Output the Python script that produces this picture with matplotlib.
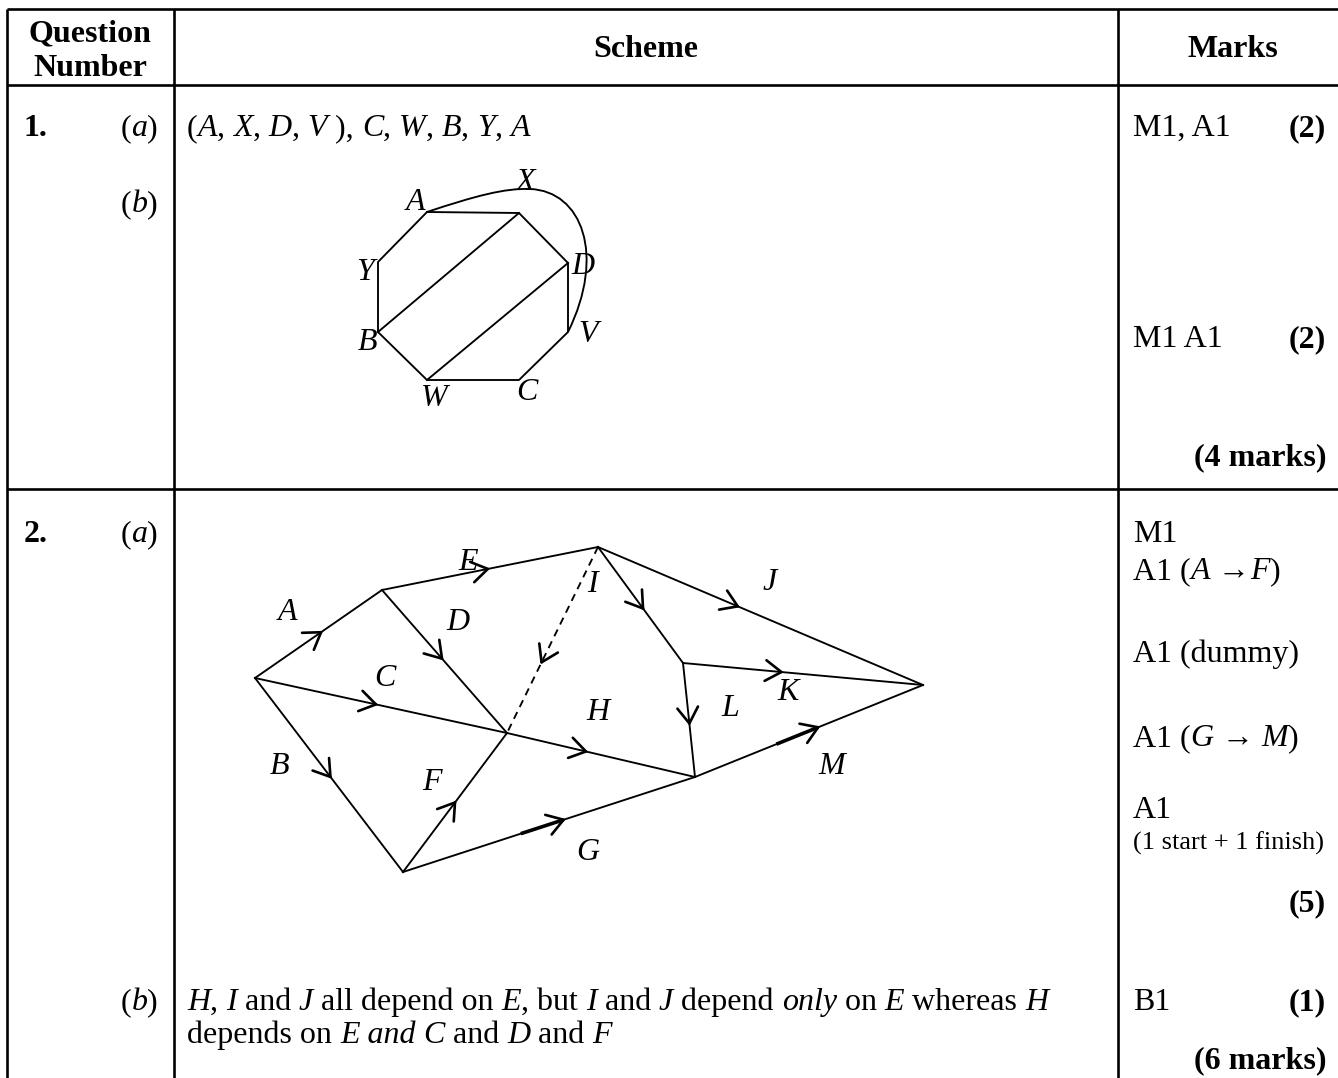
import matplotlib
matplotlib.use('Agg')
import matplotlib.pyplot as plt
from matplotlib.path import Path
from matplotlib.patches import PathPatch
import numpy as np

# ---------------- data ----------------
HEADERS = ["Question\nNumber", "Scheme", "Marks"]

Q1A_SCHEME = [("(", "r"), ("A", "i"), (", ", "r"), ("X", "i"), (", ", "r"), ("D", "i"),
              (", ", "r"), ("V", "i"), (" ), ", "r"), ("C", "i"), (", ", "r"), ("W", "i"),
              (", ", "r"), ("B", "i"), (", ", "r"), ("Y", "i"), (", ", "r"), ("A", "i")]
Q2B_LINE1 = [("H", "i"), (", ", "r"), ("I", "i"), (" and ", "r"), ("J", "i"),
             (" all depend on ", "r"), ("E", "i"), (", but ", "r"), ("I", "i"), (" and ", "r"),
             ("J", "i"), (" depend ", "r"), ("only", "i"), (" on ", "r"), ("E", "i"),
             (" whereas ", "r"), ("H", "i")]
Q2B_LINE2 = [("depends on ", "r"), ("E and", "i"), (" ", "r"), ("C", "i"), (" and ", "r"),
             ("D", "i"), (" and ", "r"), ("F", "i")]

MARKS_Q1 = [("M1, A1", "(2)"), ("M1 A1", "(2)")]
MARKS_Q2 = [[("M1", "r")],
            [("A1 (", "r"), ("A", "i"), (" \u2192", "r"), ("F", "i"), (")", "r")],
            [("A1 (dummy)", "r")],
            [("A1 (", "r"), ("G", "i"), (" \u2192 ", "r"), ("M", "i"), (")", "r")],
            [("A1", "r")]]
SMALL_NOTE = "(1 start + 1 finish)"
TOTALS = ["(4 marks)", "(5)", "(1)", "(6 marks)"]

# octagon graph (question 1b)
OCT_NAMES = ["A", "P", "D", "V", "C", "W", "B", "Y"]
OCT_X = [427, 519, 568, 568, 519, 427, 378, 378]
OCT_Y = [212, 213, 263, 332, 380, 380, 332, 262]
OCT_DIAG = [("B", "P"), ("W", "D")]
OCT_LABELS = ["A", "X", "Y", "D", "B", "V", "W", "C"]
OCT_LAB_X = [415, 525, 365, 583, 367, 588, 434, 527]
OCT_LAB_Y = [203, 182, 272, 266, 343, 334, 398, 392]

# activity network (question 2a)
NODE_X = [255, 382, 598, 507, 403, 683, 695, 923]
NODE_Y = [678, 590, 547, 733, 872, 663, 777, 685]
ACTS = ["A", "B", "C", "D", "E", "F", "G", "dummy", "H", "I", "J", "K", "L", "M"]
ACT_FROM = [0, 0, 0, 1, 1, 4, 4, 2, 3, 2, 2, 5, 5, 6]
ACT_TO = [1, 4, 3, 3, 2, 3, 6, 3, 6, 5, 7, 7, 6, 7]
ACT_ARROW_T = [0.52, 0.51, 0.48, 0.48, 0.49, 0.50, 0.55, 0.62, 0.42, 0.53, 0.43, 0.41, 0.53, 0.54]
ACT_LAB_X = [287, 279, 385, 458, 468, 432, 588, None, 598, 592, 770, 788, 730, 832]
ACT_LAB_Y = [612, 766, 678, 623, 563, 782, 852, None, 713, 585, 583, 693, 708, 767]

# ---------------- layout ----------------
W, H = 1338, 1078
fig = plt.figure(figsize=(W / 100, H / 100), dpi=100)
ax = fig.add_axes([0, 0, 1, 1])
ax.set_xlim(0, W)
ax.set_ylim(H, 0)
ax.axis('off')
renderer = fig.canvas.get_renderer()

FAM = ['Liberation Serif', 'DejaVu Serif']
FS = 23
TLW = 1.9
DLW = 1.35


def skw(s):
    return dict(fontstyle='italic' if 'i' in s else 'normal',
                fontweight='bold' if 'b' in s else 'normal')


def text_w(txt, s, size):
    t = ax.text(0, 0, txt + '|', fontsize=size, family=FAM, **skw(s))
    w1 = t.get_window_extent(renderer).width
    t.remove()
    t = ax.text(0, 0, '|', fontsize=size, family=FAM, **skw(s))
    w2 = t.get_window_extent(renderer).width
    t.remove()
    return w1 - w2


def runs(x, y, parts, size=FS, ha='left'):
    if ha == 'right':
        x -= sum(text_w(p, s, size) for p, s in parts)
    for p, s in parts:
        ax.text(x, y, p, fontsize=size, family=FAM, va='baseline', ha='left', **skw(s))
        x += text_w(p, s, size)


# table lines
TOP, HDR, ROWDIV = 9, 85, 489
XL, X1, X2 = 7, 174, 1118
ax.plot([XL, W], [TOP, TOP], color='k', lw=TLW, solid_capstyle='butt')
ax.plot([XL, W], [HDR, HDR], color='k', lw=TLW, solid_capstyle='butt')
ax.plot([XL, W], [ROWDIV, ROWDIV], color='k', lw=TLW, solid_capstyle='butt')
for xv in (XL, X1, X2):
    ax.plot([xv, xv], [TOP, H], color='k', lw=TLW, solid_capstyle='butt')

# headers
ax.text(90, 41, "Question", fontsize=FS, family=FAM, fontweight='bold', ha='center', va='baseline')
ax.text(90, 76, "Number", fontsize=FS, family=FAM, fontweight='bold', ha='center', va='baseline')
ax.text(646, 57, HEADERS[1], fontsize=FS, family=FAM, fontweight='bold', ha='center', va='baseline')
ax.text(1233, 57, HEADERS[2], fontsize=FS, family=FAM, fontweight='bold', ha='center', va='baseline')

QX, PX, SX, MX, RX = 24, 158, 187, 1133, 1326

# question 1
Y1A, Y1B = 136, 212
runs(QX, Y1A, [("1.", "b")])
runs(PX, Y1A, [("(", "r"), ("a", "i"), (")", "r")], ha='right')
runs(PX, Y1B, [("(", "r"), ("b", "i"), (")", "r")], ha='right')
runs(SX, Y1A, Q1A_SCHEME)
for (m, tot), yb in zip(MARKS_Q1, [Y1A, 347]):
    runs(MX, yb, [(m, "r")])
    runs(RX, yb, [(tot, "b")], ha='right')
runs(RX, 465, [(TOTALS[0], "b")], ha='right')

# octagon graph
ox = dict(zip(OCT_NAMES, OCT_X))
oy = dict(zip(OCT_NAMES, OCT_Y))
ax.plot(OCT_X + [OCT_X[0]], OCT_Y + [OCT_Y[0]], color='k', lw=DLW)
for a, b in OCT_DIAG:
    ax.plot([ox[a], ox[b]], [oy[a], oy[b]], color='k', lw=DLW)
curve = Path([(ox["A"], oy["A"]), (475, 196), (505, 188), (530, 189),
              (582, 191), (606, 255), (ox["V"], oy["V"])],
             [Path.MOVETO, Path.CURVE4, Path.CURVE4, Path.CURVE4,
              Path.CURVE4, Path.CURVE4, Path.CURVE4])
ax.add_patch(PathPatch(curve, fill=False, lw=DLW, color='k'))
for lab, lx, ly in zip(OCT_LABELS, OCT_LAB_X, OCT_LAB_Y):
    ax.text(lx, ly, lab, fontsize=FS, family=FAM, fontstyle='italic', ha='center', va='center')

# question 2
Y2A, Y2B = 542, 1010
runs(QX, Y2A, [("2.", "b")])
runs(PX, Y2A, [("(", "r"), ("a", "i"), (")", "r")], ha='right')
runs(PX, Y2B, [("(", "r"), ("b", "i"), (")", "r")], ha='right')
runs(SX, Y2B, Q2B_LINE1)
runs(SX, Y2B + 33, Q2B_LINE2)
for parts, yb in zip(MARKS_Q2, [Y2A, 579, 662, 746, 818]):
    runs(MX, yb, parts)
runs(MX, 850, [(SMALL_NOTE, "r")], size=19)
runs(RX, 911, [(TOTALS[1], "b")], ha='right')
runs(MX, Y2B, [("B1", "r")])
runs(RX, Y2B, [(TOTALS[2], "b")], ha='right')
runs(RX, 1068, [(TOTALS[3], "b")], ha='right')


def arrowhead(tip, d, size=19, ang=33):
    d = np.asarray(d, float)
    d /= np.hypot(*d)
    for sgn in (1, -1):
        a = np.radians(sgn * ang)
        rot = np.array([[np.cos(a), -np.sin(a)], [np.sin(a), np.cos(a)]])
        back = tip - size * (rot @ d)
        ax.plot([tip[0], back[0]], [tip[1], back[1]], color='k', lw=1.9, solid_capstyle='round')


for name, f, t, at, lx, ly in zip(ACTS, ACT_FROM, ACT_TO, ACT_ARROW_T, ACT_LAB_X, ACT_LAB_Y):
    p0 = np.array([NODE_X[f], NODE_Y[f]], float)
    p1 = np.array([NODE_X[t], NODE_Y[t]], float)
    ls = (0, (4, 3)) if name == "dummy" else '-'
    ax.plot([p0[0], p1[0]], [p0[1], p1[1]], color='k', lw=DLW, linestyle=ls)
    tip = p0 + at * (p1 - p0)
    arrowhead(tip, p1 - p0)
    if name in ("G", "M"):
        d = (p1 - p0) / np.hypot(*(p1 - p0))
        back = tip - 45 * d
        ax.plot([back[0], tip[0]], [back[1], tip[1]], color='k', lw=2.6, solid_capstyle='butt')
    if lx is not None:
        ax.text(lx, ly, name, fontsize=FS, family=FAM, fontstyle='italic', ha='center', va='center')

fig.savefig('out.png', dpi=100)
